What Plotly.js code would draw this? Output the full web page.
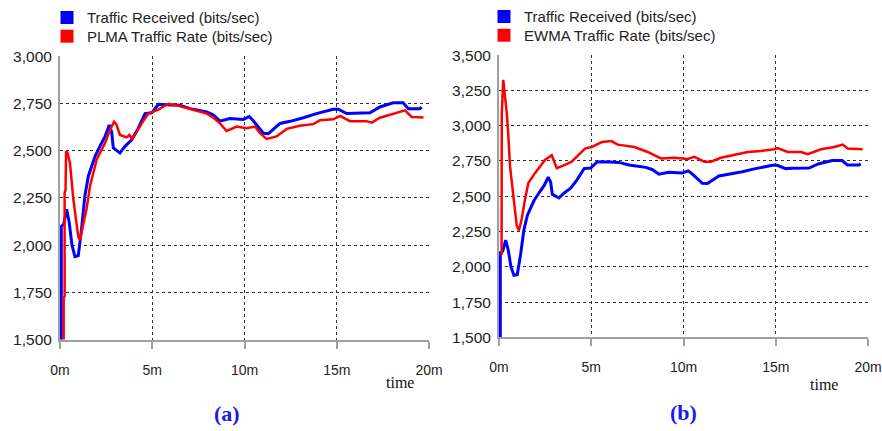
<!DOCTYPE html>
<html>
<head>
<meta charset="utf-8">
<script src="https://cdn.plot.ly/plotly-3.0.1.min.js"></script>
<style>html,body{margin:0;padding:0;background:#fff;}#chart{width:882px;height:431px;}</style>
</head>
<body>
<div id="chart"></div>
<script>
// ---- Data (minutes, bits/sec) ----
var receivedTime = [0.07,0.07,0.2,0.36,0.5,0.65,0.81,0.99,1.17,1.35,1.54,1.9,2.2,2.44,2.67,2.8,2.89,3.25,3.5,3.88,4.2,4.43,4.61,4.97,5.33,6.0,6.5,7.05,7.95,8.3,8.67,9.2,9.93,10.26,10.5,11.02,11.3,11.92,12.47,13.19,13.9,14.81,15.08,15.54,15.9,16.8,17.34,18.06,18.6,18.88,19.51,19.6];
var receivedRate = [1500,2100,2110,2190,2120,2000,1940,1945,2088,2262,2366,2470,2530,2575,2635,2600,2514,2488,2520,2557,2610,2661,2696,2700,2745,2742,2740,2722,2705,2690,2656,2670,2665,2680,2655,2592,2590,2644,2655,2674,2696,2719,2719,2696,2698,2700,2731,2753,2753,2722,2722,2730];

var plmaTime = [0.2,0.2,0.25,0.25,0.3,0.33,0.4,0.54,0.72,0.99,1.08,1.26,1.44,1.63,1.99,2.44,2.71,2.93,3.05,3.25,3.61,3.76,3.92,4.43,4.79,5.33,5.87,6.32,6.86,7.95,8.3,8.67,9.03,9.58,10.1,10.57,10.84,11.2,11.74,12.29,13.0,13.73,14.1,14.81,15.18,15.72,16.62,16.9,17.34,18.06,18.7,19.06,19.7];
var plmaRate = [1500,1720,1730,2280,2290,2496,2490,2436,2245,2045,2028,2106,2193,2314,2453,2540,2609,2653,2640,2583,2570,2583,2560,2644,2696,2717,2748,2740,2726,2696,2675,2644,2604,2627,2618,2627,2592,2562,2575,2615,2632,2640,2661,2666,2684,2656,2656,2648,2674,2696,2713,2678,2675];

var ewmaTime = [0.14,0.15,0.23,0.33,0.42,0.5,0.6,0.78,0.96,1.08,1.23,1.41,1.59,1.95,2.22,2.49,2.86,3.13,3.58,3.94,4.3,4.66,5.02,5.57,6.1,6.43,7.34,8.06,8.78,9.5,10.23,10.59,11.13,11.49,12.03,12.76,13.48,14.2,14.93,15.1,15.65,16.37,16.73,17.45,18.17,18.63,18.9,19.71];
var ewmaRate = [2084,3081,3325,3220,3092,2942,2710,2501,2293,2258,2339,2478,2595,2664,2710,2757,2791,2699,2722,2745,2791,2838,2849,2884,2891,2866,2849,2814,2768,2773,2764,2780,2745,2745,2773,2791,2814,2821,2833,2842,2814,2814,2798,2833,2849,2866,2838,2833];

var xTickVals = [0,5,10,15,20];
var xTickText = ['0m','5m','10m','15m','20m'];
var xGridVals = [5,10,15];
var yTicksA = [1500,1750,2000,2250,2500,2750,3000];
var yGridA = [1750,2000,2250,2500,2750];
var yTicksB = [1500,1750,2000,2250,2500,2750,3000,3250,3500];
var yGridB = [1750,2000,2250,2500,2750,3000,3250];
var nameReceived = 'Traffic Received (bits/sec)';
var namePlma = 'PLMA Traffic Rate (bits/sec)';
var nameEwma = 'EWMA Traffic Rate (bits/sec)';

// ---- Styles ----
var BLUE = '#0000ff', RED = '#ff0000';
var AXC = '#a0a0a0';
var SANS = 'Liberation Sans, Arial, sans-serif';
var SERIF = 'Liberation Serif, Times New Roman, serif';
var H = 431, W = 882;

var traces = [
  {x: receivedTime, y: receivedRate, xaxis:'x', yaxis:'y', mode:'lines', line:{color:BLUE, width:3}, showlegend:false, hoverinfo:'skip'},
  {x: plmaTime, y: plmaRate, xaxis:'x', yaxis:'y', mode:'lines', line:{color:RED, width:2.5}, showlegend:false, hoverinfo:'skip'},
  {x: receivedTime, y: receivedRate, xaxis:'x2', yaxis:'y2', mode:'lines', line:{color:BLUE, width:3}, showlegend:false, hoverinfo:'skip'},
  {x: ewmaTime, y: ewmaRate, xaxis:'x2', yaxis:'y2', mode:'lines', line:{color:RED, width:2.5}, showlegend:false, hoverinfo:'skip'},
  // legend entries (square swatches), one legend box per entry
  {x:[null], y:[null], xaxis:'x3', yaxis:'y3', mode:'markers', name:nameReceived, marker:{symbol:'square', size:13, color:BLUE}, legend:'legend'},
  {x:[null], y:[null], xaxis:'x3', yaxis:'y3', mode:'markers', name:namePlma, marker:{symbol:'square', size:13, color:RED}, legend:'legend3'},
  {x:[null], y:[null], xaxis:'x4', yaxis:'y4', mode:'markers', name:nameReceived, marker:{symbol:'square', size:13, color:BLUE}, legend:'legend2'},
  {x:[null], y:[null], xaxis:'x4', yaxis:'y4', mode:'markers', name:nameEwma, marker:{symbol:'square', size:13, color:RED}, legend:'legend4'}
];

function mainX(domain, anchor){
  return {domain:domain, anchor:anchor, range:[0,20], tickvals:xTickVals, ticktext:xTickText,
    ticks:'outside', ticklen:7, tickwidth:2, tickcolor:AXC, showline:true, linecolor:AXC, linewidth:2,
    showgrid:false, zeroline:false, fixedrange:true, automargin:false,
    tickfont:{family:SANS, size:14, color:'#222'}, ticklabelstandoff:9};
}
function mainY(domain, anchor, range, ticks){
  return {domain:domain, anchor:anchor, range:range, tickvals:ticks, tickformat:',d',
    ticks:'', showline:true, linecolor:AXC, linewidth:2, showgrid:false, zeroline:false,
    fixedrange:true, automargin:false, tickfont:{family:SANS, size:15.5, color:'#222'}, ticklabelstandoff:3};
}
function gridX(overlay, anchor){
  return {overlaying:overlay, anchor:anchor, range:[0,20], tickvals:xGridVals, showticklabels:false, ticks:'',
    showgrid:true, gridcolor:'#333', gridwidth:1, griddash:'dot', zeroline:false, showline:false, fixedrange:true};
}
function gridY(overlay, anchor, range, vals){
  return {overlaying:overlay, anchor:anchor, range:range, tickvals:vals, showticklabels:false, ticks:'',
    showgrid:true, gridcolor:'#333', gridwidth:1, griddash:'dot', zeroline:false, showline:false, fixedrange:true};
}
function legendAt(px, py){
  return {x:px/W, y:1-py/H, xanchor:'left', yanchor:'middle', bgcolor:'rgba(0,0,0,0)', borderwidth:0,
    font:{family:SANS, size:15, color:'#222'}, itemclick:false, itemdoubleclick:false};
}

var domAx = [60/W, 429/W], domAy = [(H-338)/H, (H-49)/H];
var domBx = [499/W, 868/W], domBy = [(H-335.7)/H, (H-48)/H];

var layout = {
  width:W, height:H, margin:{l:0,r:0,t:0,b:0}, paper_bgcolor:'#fff', plot_bgcolor:'rgba(0,0,0,0)',
  showlegend:true,
  xaxis: mainX(domAx, 'y'),
  yaxis: mainY(domAy, 'x', [1500,3000], yTicksA),
  xaxis2: mainX(domBx, 'y2'),
  yaxis2: mainY(domBy, 'x2', [1500,3500], yTicksB),
  xaxis3: gridX('x', 'y3'),
  yaxis3: gridY('y', 'x3', [1500,3000], yGridA),
  xaxis4: gridX('x2', 'y4'),
  yaxis4: gridY('y2', 'x4', [1500,3500], yGridB),
  legend: legendAt(47, 10),
  legend3: legendAt(47, 29),
  legend2: legendAt(484, 9),
  legend4: legendAt(484, 28),
  annotations: [
    {text:'time', xref:'paper', yref:'paper', x:400/W, y:(H-382)/H, xanchor:'center', yanchor:'middle', showarrow:false,
      font:{family:SERIF, size:16, color:'#111'}},
    {text:'time', xref:'paper', yref:'paper', x:824/W, y:(H-384)/H, xanchor:'center', yanchor:'middle', showarrow:false,
      font:{family:SERIF, size:16, color:'#111'}},
    {text:'<b>(a)</b>', xref:'paper', yref:'paper', x:226.7/W, y:(H-413)/H, xanchor:'center', yanchor:'middle', showarrow:false,
      font:{family:SERIF, size:22, color:'#1a1ae6'}},
    {text:'<b>(b)</b>', xref:'paper', yref:'paper', x:683.5/W, y:(H-412)/H, xanchor:'center', yanchor:'middle', showarrow:false,
      font:{family:SERIF, size:22, color:'#1a1ae6'}}
  ]
};

Plotly.newPlot('chart', traces, layout, {displayModeBar:false, staticPlot:true});
</script>
</body>
</html>
